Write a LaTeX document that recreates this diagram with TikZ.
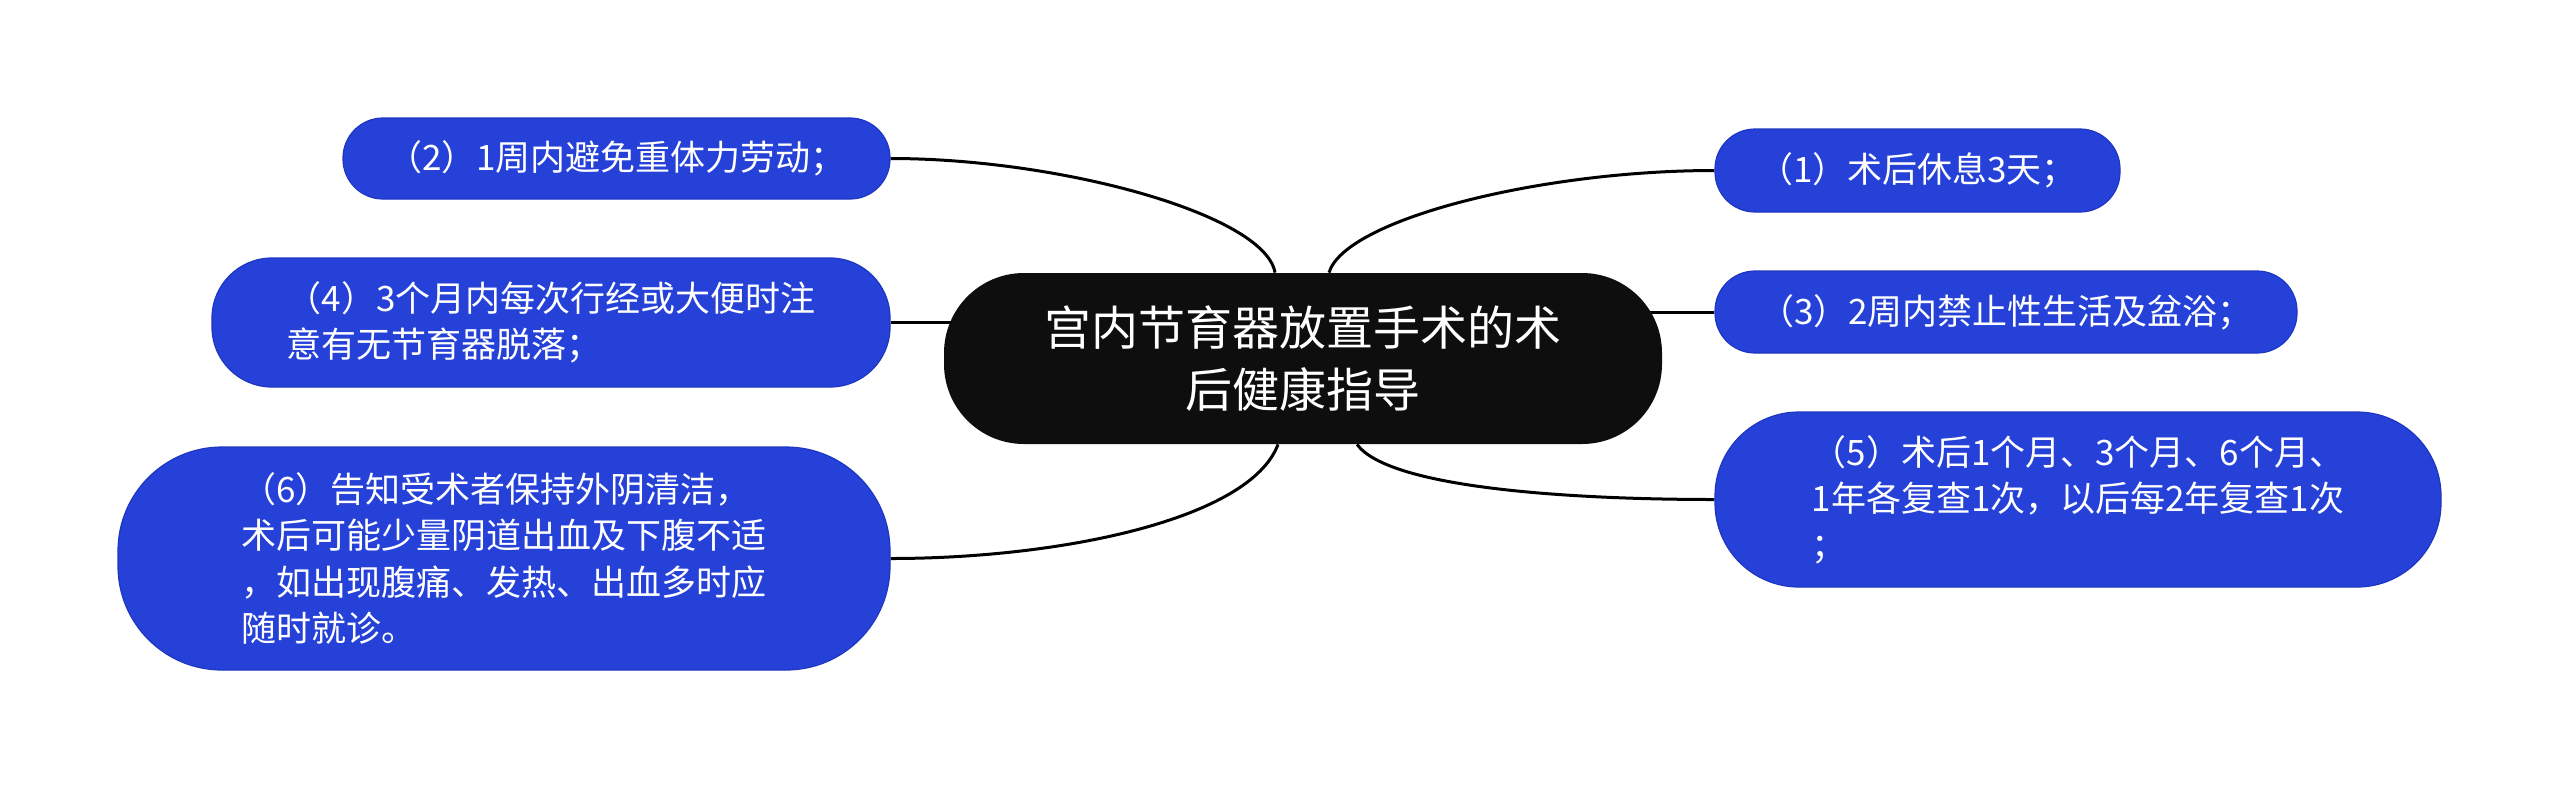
\documentclass[tikz,border=0pt]{standalone}
\usepackage{fontspec}
\newfontfamily\cjk{Noto Sans CJK SC}
\usepackage{tikz}
\usetikzlibrary{backgrounds}

\definecolor{leafblue}{HTML}{2541D8}
\definecolor{leafedge}{HTML}{1E36C2}
\definecolor{topicblack}{HTML}{0E0E0E}

\begin{document}
\begin{tikzpicture}[x=0.5pt, y=-0.5pt,
  leaf/.style={fill=leafblue, draw=leafedge, line width=0.6pt, text=white, align=left,
    inner sep=0pt, font=\cjk\fontsize{17.5}{23.25}\selectfont},
  topic/.style={fill=topicblack, text=white, align=center, rounded corners=40pt,
    inner sep=0pt, font=\cjk\fontsize{23.5}{31}\selectfont},
  link/.style={black, line width=1.5pt}]

\useasboundingbox (0,0) rectangle (2560,789);

\node[topic, minimum width=359pt, minimum height=85.5pt] (root) at (1303,358.5) {宫内节育器放置手术的术\\后健康指导};

\node[leaf, minimum width=202.5pt, minimum height=41.5pt, rounded corners=20pt] (n1) at (1917.5,170.5) {（1）术后休息3天；};
\node[leaf, minimum width=273.5pt, minimum height=40.5pt, rounded corners=20pt] (n2) at (616.5,158.5) {（2）1周内避免重体力劳动；};
\node[leaf, minimum width=291pt, minimum height=41pt, rounded corners=20pt] (n3) at (2006,312) {（3）2周内禁止性生活及盆浴；};
\node[leaf, minimum width=339pt, minimum height=64.5pt, rounded corners=30pt] (n4) at (551,322.5) {（4）3个月内每次行经或大便时注\\意有无节育器脱落；};
\node[leaf, minimum width=363pt, minimum height=87.5pt, rounded corners=42pt] (n5) at (2078,499.5) {（5）术后1个月、3个月、6个月、\\1年各复查1次，以后每2年复查1次\\；};
\node[leaf, minimum width=386pt, minimum height=111.5pt, rounded corners=52pt] (n6) at (504,558.5) {（6）告知受术者保持外阴清洁，\\术后可能少量阴道出血及下腹不适\\，如出现腹痛、发热、出血多时应\\随时就诊。};

% links behind the nodes
\begin{scope}[on background layer]
\draw[link] ([xshift=13pt]root.north) .. controls +(16,-53) and +(-175,0) .. (n1.west);
\draw[link] ([xshift=-14pt]root.north) .. controls +(-10,-58) and +(170,0) .. (n2.east);
\draw[link] (n3.west -| root.center) -- (n3.west);
\draw[link] (n4.east) -- (n4.east -| root.center);
\draw[link] ([xshift=27pt]root.south) .. controls +(33,45) and +(-135,0) .. (n5.west);
\draw[link] ([xshift=-12.5pt]root.south) .. controls +(-28,75) and +(170,0) .. (n6.east);
\end{scope}

\end{tikzpicture}
\end{document}
